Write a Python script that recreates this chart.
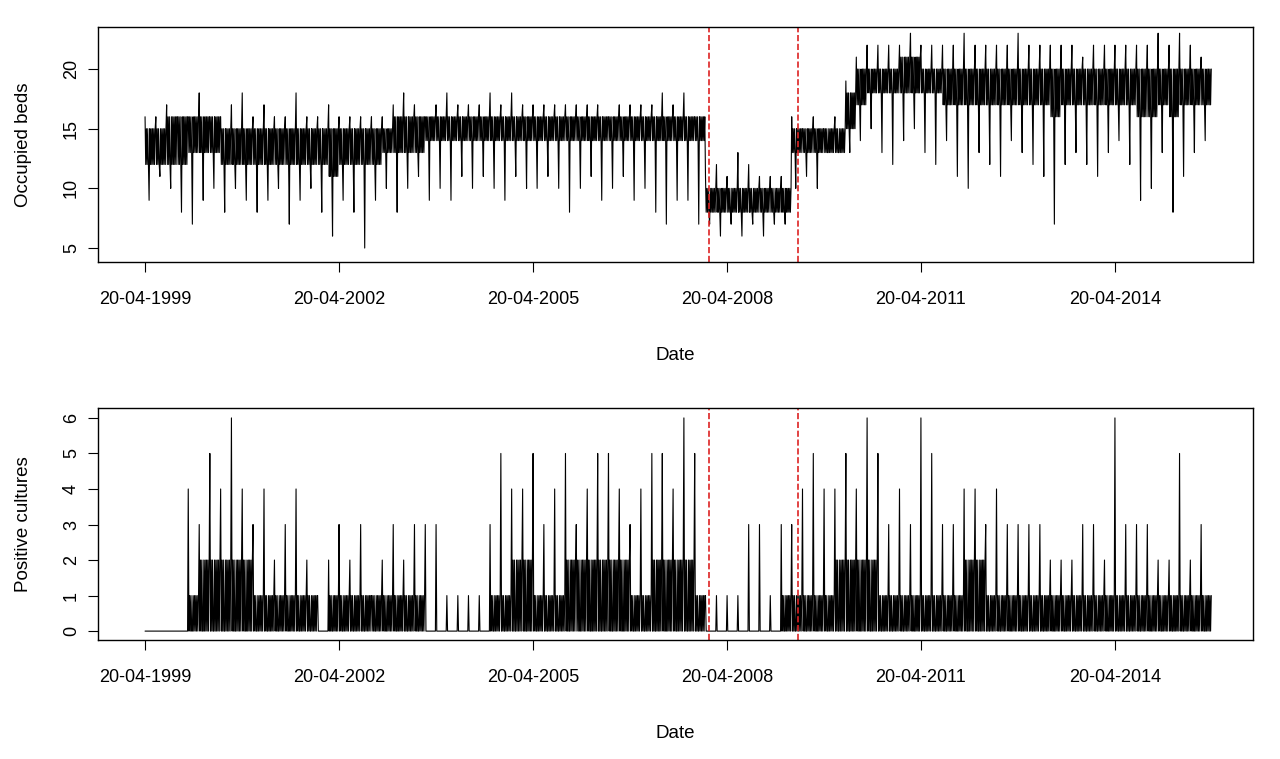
import numpy as np, pandas as pd, matplotlib
matplotlib.use("Agg")
import matplotlib.pyplot as plt, matplotlib.dates as mdates, seaborn as sns
sns.set_style("white")
plt.rcParams['font.family'] = ['Liberation Sans', 'DejaVu Sans']
plt.rcParams['text.color'] = 'black'
plt.rcParams['axes.labelcolor'] = 'black'
plt.rcParams['xtick.color'] = 'black'
plt.rcParams['ytick.color'] = 'black'

# 2-month periods starting 20-04-1999
beds_max = [16,16,17,16,16,18,16,16,17,18, 16,17,16,16,18,16,16,17,16,16,
            16,16,16,17,18,17,16,17,18,17, 17,17,18,17,18,17,17,17,17,17,
            17,17,17,16,17,17,17,17,18,17, 18,16,
            11,12,11,13,12,11,11,11, 16,15,16,15,16,
            19,21,22,22,22,22,23,22,22,22,22,23,22,22,22,22,23,22,22,22,22,22,21,22,22,22,22,22,22,23,22,23,22,21]
beds_min = [9,11,10,8,7,9,10,8,10,9, 8,9,10,7,9,10,8,6,9,8,
            5,9,10,8,10,11,9,10,9,11, 10,11,10,9,11,10,10,11,10,8,
            10,11,9,10,11,9,10,8,7,9, 9,7,
            7,6,7,6,7,6,7,7, 10,11,10,13,13,
            13,14,15,13,12,14,15,13,12,14,11,10,13,12,11,14,13,12,11,7,12,13,12,11,13,14,12,9,10,13,8,11,13,14]
beds_core_lo = [12,12,12,12,13,13,13,12,12,12,12,12,12,12,12,12,12,11,12,12,
                12,12,13,13,13,13,14,14,14,14,14,14,14,14,14,14,14,14,14,14,14,14,14,14,14,14,14,14,14,14,14,14,
                8,8,8,8,8,8,8,8, 13,13,13,13,13,
                15,17,18,18,18,18,18,18,18,17,17,17,17,17,17,17,17,17,17,16,17,17,17,17,17,17,17,16,16,17,16,17,17,17]
beds_core_hi = [15,15,16,16,16,16,16,15,15,15,15,15,15,15,15,15,15,15,15,15,
                15,15,15,16,16,16,16,16,16,16,16,16,16,16,16,16,16,16,16,16,16,16,16,16,16,16,16,16,16,16,16,16,
                10,10,10,10,10,10,10,10, 15,15,15,15,15,
                18,20,20,20,20,21,21,20,20,20,20,20,20,20,20,20,20,20,20,20,20,20,20,20,20,20,20,20,20,20,20,20,20,20]
cult_max = [0,0,0,0,4,3,5,4,6,4, 3,4,2,3,4,2,1,2,3,2, 3,1,2,3,2,3,3,3,1,1,
            1,1,3,5,4,4,5,3,4,5, 3,4,5,5,4,3,4,5,5,4, 6,5,
            1,1,1,1,3,3,1,3,
            3,4,5,4,4,5,4,6,5,3,4,3,6,5,3,3,4,4,3,4,3,3,3,3,2,2,2,3,3,2,6,3,3,3,2,2,5,2,3]
cult_core = [0,0,0,0,1,2,2,2,2,2, 1,1,1,1,1,1,0,1,1,1, 1,1,1,1,1,1,0,0,0,0,
             0,0,1,1,2,2,1,1,1,2, 2,2,2,2,2,1,1,2,2,2, 2,1,
             0,0,0,0,0,0,0,1,
             1,1,1,1,2,2,2,2,1,1,1,1,1,1,1,1,2,2,1,1,1,1,1,1,1,1,1,1,1,1,1,1,1,1,1,1,1,1,1]
tick_years = [1999, 2002, 2005, 2008, 2011, 2014]
breaks = ["2008-01-10", "2009-05-25"]
n = 99

start = pd.Timestamp("1999-04-20")
pstart = [start + pd.DateOffset(months=2*i) for i in range(n)] + [pd.Timestamp("2015-10-20")]

def series(hi, lo, chi, clo):
    t, v = [], []
    for i in range(n):
        a, b = mdates.date2num(pstart[i]), mdates.date2num(pstart[i+1])
        vals = [hi[i], clo[i], chi[i], clo[i], chi[i], clo[i], lo[i], chi[i],
                clo[i], chi[i], clo[i], chi[i], clo[i], chi[i], clo[i], chi[i]]
        for k, val in enumerate(vals):
            t.append(a + (b - a) * k / len(vals)); v.append(val)
    return pd.DataFrame({"t": t, "v": v})

fig = plt.figure(figsize=(12.8, 7.59), dpi=100)
ax1 = fig.add_axes([0.0766, 0.6548, 0.902, 0.3096])
ax2 = fig.add_axes([0.0766, 0.1568, 0.902, 0.3057])

d1 = series(beds_max, beds_min, beds_core_hi, beds_core_lo)
d2 = series(cult_max, [0]*n, cult_core, [0]*n)
for ax, d in [(ax1, d1), (ax2, d2)]:
    sns.lineplot(data=d, x="t", y="v", ax=ax, color="black", lw=0.8, sort=False, estimator=None)
    for b in breaks:
        ax.axvline(mdates.date2num(pd.Timestamp(b)), color="#dd2222", ls="--", lw=1.2)
    x0 = mdates.date2num(start)
    ax.set_xlim(x0 - 0.727*365.25, x0 + 17.13*365.25)
    tk = [mdates.date2num(pd.Timestamp(f"{y}-04-20")) for y in tick_years]
    ax.set_xticks(tk)
    ax.set_xticklabels([f"20-04-{y}" for y in tick_years])
    ax.set_xlabel("Date", fontsize=13.5, labelpad=28)
    ax.tick_params(axis="x", direction="out", length=7, labelsize=13, pad=14)
    ax.tick_params(axis="y", direction="out", length=7, labelsize=13, pad=6)
    ax.tick_params(left=True, bottom=True)
    for s in ax.spines.values():
        s.set_color("black"); s.set_linewidth(1)

ax1.set_ylim(3.83, 23.52); ax1.set_yticks([5, 10, 15, 20])
ax1.set_ylabel("Occupied beds", fontsize=13.5, labelpad=22)
ax2.set_ylim(-0.25, 6.28); ax2.set_yticks(range(7))
ax2.set_ylabel("Positive cultures", fontsize=13.5, labelpad=22)
for ax in (ax1, ax2):
    for lab in ax.get_yticklabels():
        lab.set_rotation(90); lab.set_va("center")
fig.savefig("out.png", dpi=100)
